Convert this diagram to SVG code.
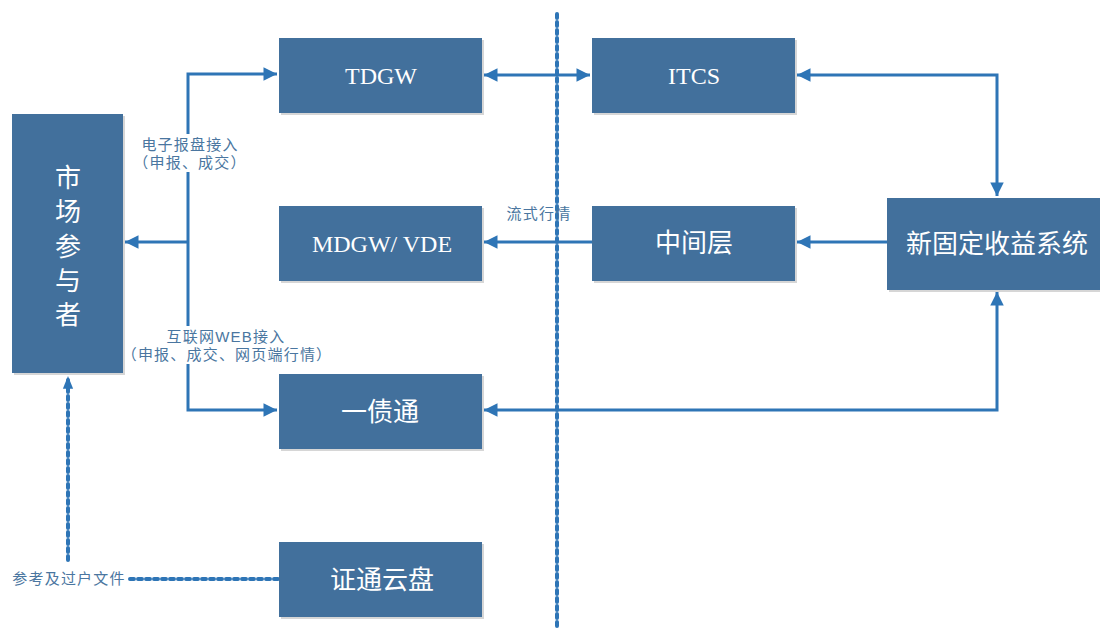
<svg xmlns="http://www.w3.org/2000/svg" width="1100" height="628" viewBox="0 0 1100 628">
<style>
.box{fill:#42709c}
.shadow{fill:#d6d6d6}
.ts{font-family:"Liberation Serif",serif;font-size:24px;fill:#fff;text-anchor:middle}
.tc{font-family:"Noto Sans CJK SC","Noto Sans",sans-serif;font-size:26px;fill:#fff;text-anchor:middle}
.lbl{font-family:"Liberation Sans","Noto Sans CJK SC",sans-serif;font-size:15px;letter-spacing:1.2px;fill:#4a76a0;text-anchor:middle}
.ln{fill:none;stroke:#2e75b6;stroke-width:3}
.dl{fill:none;stroke:#2e75b6;stroke-width:4;stroke-dasharray:4 4;stroke-linecap:round}
</style>
<defs>
<marker id="ah" viewBox="0 0 10 10" refX="10" refY="5" markerWidth="6" markerHeight="4.5" markerUnits="strokeWidth" orient="auto-start-reverse">
<path d="M0,0 L10,5 L0,10 z" fill="#2e75b6"/>
</marker>
<marker id="ahd" viewBox="0 0 10 10" refX="10" refY="5" markerWidth="3.2" markerHeight="3.2" markerUnits="strokeWidth" orient="auto">
<path d="M0,1 L10,5 L0,9 z" fill="#2e75b6"/>
</marker>
</defs>
<rect width="1100" height="628" fill="#fff"/>

<g id="connectors">
<line class="dl" x1="557" y1="14" x2="557" y2="628" stroke-width="3.5"/>
<polyline class="ln" points="188,242 188,74 277,74" marker-end="url(#ah)"/>
<polyline class="ln" points="188,242 188,410 277,410" marker-end="url(#ah)"/>
<line class="ln" x1="188" y1="242" x2="125" y2="242" marker-end="url(#ah)"/>
<line class="ln" x1="484" y1="75" x2="590" y2="75" marker-start="url(#ah)" marker-end="url(#ah)"/>
<polyline class="ln" points="797,75 997,75 997,196" marker-start="url(#ah)" marker-end="url(#ah)"/>
<polyline class="ln" points="997,292 997,410 484,410" marker-start="url(#ah)" marker-end="url(#ah)"/>
<line class="ln" x1="592" y1="242" x2="484" y2="242" marker-end="url(#ah)"/>
<line class="ln" x1="887" y1="242" x2="797" y2="242" marker-end="url(#ah)"/>
<polyline class="dl" points="278,579 130,579"/>
<line class="dl" x1="68" y1="560" x2="68" y2="376" marker-end="url(#ahd)"/>
<rect x="138" y="134" width="102" height="38" fill="#fff"/>
<rect x="124" y="326" width="206" height="38" fill="#fff"/>
<text class="lbl"><tspan x="190" y="150">电子报盘接入</tspan><tspan x="190" y="168">（申报、成交）</tspan></text>
<text class="lbl"><tspan x="226" y="342">互联网WEB接入</tspan><tspan x="227" y="360">（申报、成交、网页端行情）</tspan></text>
<text class="lbl" x="539" y="219">流式行情</text>
<text class="lbl" x="69" y="584">参考及过户文件</text>
</g>

<g id="market">
<rect class="shadow" x="14" y="116" width="111" height="259"/>
<rect class="box" x="12" y="114" width="111" height="259"/>
<text class="tc" x="68" y="187" font-size="27">市</text>
<text class="tc" x="68" y="221" font-size="27">场</text>
<text class="tc" x="68" y="256" font-size="27">参</text>
<text class="tc" x="68" y="290" font-size="27">与</text>
<text class="tc" x="68" y="324" font-size="27">者</text>
</g>
<g id="tdgw">
<rect class="shadow" x="281" y="40" width="203" height="75"/>
<rect class="box" x="279" y="38" width="203" height="75"/>
<text class="ts" x="381" y="84">TDGW</text>
</g>
<g id="mdgw">
<rect class="shadow" x="281" y="208" width="203" height="75"/>
<rect class="box" x="279" y="206" width="203" height="75"/>
<text class="ts" x="382" y="252">MDGW/ VDE</text>
</g>
<g id="yizhaitong">
<rect class="shadow" x="281" y="376" width="203" height="75"/>
<rect class="box" x="279" y="374" width="203" height="75"/>
<text class="tc" x="380" y="421">一债通</text>
</g>
<g id="zhengtong">
<rect class="shadow" x="281" y="544" width="203" height="75"/>
<rect class="box" x="279" y="542" width="203" height="75"/>
<text class="tc" x="382" y="589">证通云盘</text>
</g>
<g id="itcs">
<rect class="shadow" x="594" y="40" width="203" height="75"/>
<rect class="box" x="592" y="38" width="203" height="75"/>
<text class="ts" x="694" y="84">ITCS</text>
</g>
<g id="middle">
<rect class="shadow" x="594" y="208" width="203" height="75"/>
<rect class="box" x="592" y="206" width="203" height="75"/>
<text class="tc" x="694" y="252">中间层</text>
</g>
<g id="newfixed">
<rect class="shadow" x="889" y="200" width="213" height="92"/>
<rect class="box" x="887" y="198" width="213" height="92"/>
<text class="tc" x="997" y="253">新固定收益系统</text>
</g>
</svg>
